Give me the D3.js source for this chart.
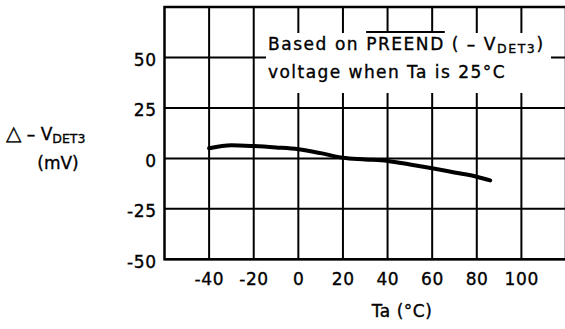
<!DOCTYPE html>
<html>
<head>
<meta charset="utf-8">
<script src="https://cdn.jsdelivr.net/npm/d3@7"></script>
<style>
  html, body { margin: 0; padding: 0; background: #fff; }
  svg { display: block; }
  text { font-family: "DejaVu Sans", sans-serif; fill: #000; stroke: #000; stroke-width: 0.35px; }
</style>
</head>
<body>
<svg id="chart" width="565" height="329"></svg>
<script>
// ---- data ----
const temps  = [-40, -30, -20, -10, 0, 10, 20, 30, 40, 50, 60, 70, 80, 86];
const deltaV = [5.0, 6.5, 6.1, 5.4, 4.5, 2.6, 0.3, -0.5, -1.3, -3.0, -4.9, -7.0, -9.1, -10.9];
const xGridValues = [-40, -20, 0, 20, 40, 60, 80, 100, 120];
const xTickLabels = [-40, -20, 0, 20, 40, 60, 80, 100];
const yGridValues = [-50, -25, 0, 25, 50, 75];
const yTickLabels = [50, 25, 0, -25, -50];
const xDomain = [-60, 120];
const yDomain = [-50, 75];

const FS = 17;
const svg = d3.select("#chart");
const x = d3.scaleLinear().domain(xDomain).range([164.5, 566]);
const y = d3.scaleLinear().domain(yDomain).range([259.3, 7]);

// grid
const grid = svg.append("g").attr("stroke", "#000").attr("stroke-width", 2);
grid.selectAll("line.v").data(xGridValues).join("line").attr("class", "v")
  .attr("x1", d => x(d)).attr("x2", d => x(d))
  .attr("y1", y(yDomain[0])).attr("y2", y(yDomain[1]));
grid.selectAll("line.h").data(yGridValues).join("line").attr("class", "h")
  .attr("x1", x(xDomain[0])).attr("x2", x(xDomain[1]))
  .attr("y1", d => y(d)).attr("y2", d => y(d));

// frame
svg.append("rect")
  .attr("x", x(xDomain[0])).attr("y", y(yDomain[1]))
  .attr("width", x(xDomain[1]) - x(xDomain[0]))
  .attr("height", y(yDomain[0]) - y(yDomain[1]))
  .attr("fill", "none").attr("stroke", "#000").attr("stroke-width", 2.5);

// annotation box
svg.append("rect").attr("x", 266).attr("y", 33).attr("width", 285).attr("height", 60).attr("fill", "#fff").attr("stroke", "none");
const ann1 = svg.append("text").attr("x", 268).attr("y", 50).attr("font-size", FS).attr("letter-spacing", 1.55);
ann1.append("tspan").text("Based on ");
ann1.append("tspan").text("PREEND");
ann1.append("tspan").text(" ( – V");
ann1.append("tspan").attr("font-size", 12.5).attr("dy", 3).text("DET3");
ann1.append("tspan").attr("dy", -3).text(")");
const node = ann1.node();
const pStart = node.getStartPositionOfChar(9).x;
const pEnd = node.getEndPositionOfChar(14).x;
svg.append("line").attr("x1", pStart).attr("x2", pEnd).attr("y1", 32).attr("y2", 32)
  .attr("stroke", "#000").attr("stroke-width", 2);
svg.append("text").attr("x", 268).attr("y", 77.5).attr("font-size", FS).attr("letter-spacing", 1.45)
  .text("voltage when Ta is 25°C");

// curve
const pts = temps.map((t, i) => [t, deltaV[i]]);
svg.append("path").datum(pts)
  .attr("fill", "none").attr("stroke", "#000").attr("stroke-width", 4)
  .attr("stroke-linecap", "round").attr("stroke-linejoin", "round")
  .attr("d", d3.line().x(d => x(d[0])).y(d => y(d[1])).curve(d3.curveMonotoneX));

// tick labels
svg.append("g").selectAll("text").data(xTickLabels).join("text")
  .attr("x", d => x(d) + 0.3).attr("y", 285).attr("text-anchor", "middle")
  .attr("font-size", FS).attr("letter-spacing", 0.6).text(d => d);
svg.append("g").selectAll("text").data(yTickLabels).join("text")
  .attr("x", 156.6).attr("y", d => y(d) + 8.5).attr("text-anchor", "end")
  .attr("font-size", FS).attr("letter-spacing", 0.6).text(d => d);

// axis titles
svg.append("text").attr("x", 402).attr("y", 317).attr("text-anchor", "middle")
  .attr("font-size", FS).attr("letter-spacing", 0.5).text("Ta (°C)");
const yt = svg.append("text").attr("x", 6).attr("y", 140).attr("font-size", FS);
yt.append("tspan").attr("font-size", 20).text("△");
yt.append("tspan").text(" – V");
yt.append("tspan").attr("font-size", 12.5).attr("dy", 3).text("DET3");
svg.append("text").attr("x", 58).attr("y", 169).attr("text-anchor", "middle")
  .attr("font-size", FS).text("(mV)");
</script>
</body>
</html>
